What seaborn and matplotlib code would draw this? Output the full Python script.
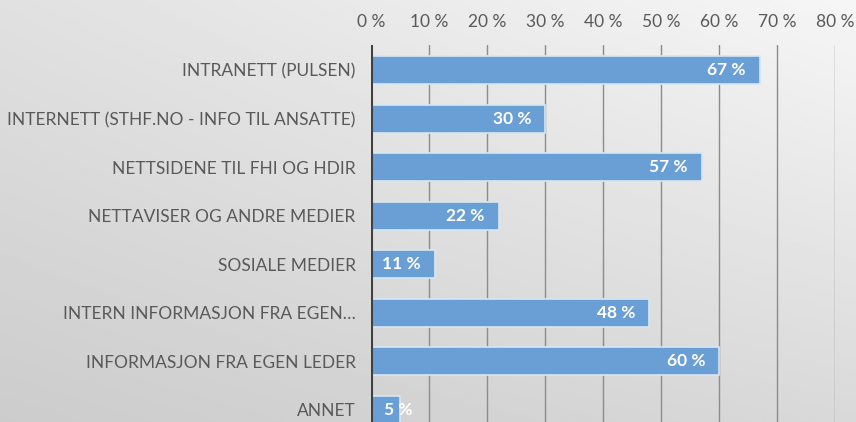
import matplotlib
matplotlib.use("Agg")
import matplotlib.pyplot as plt
import numpy as np
import pandas as pd
import seaborn as sns

categories = [
    "INTRANETT (PULSEN)",
    "INTERNETT (STHF.NO - INFO TIL ANSATTE)",
    "NETTSIDENE TIL FHI OG HDIR",
    "NETTAVISER OG ANDRE MEDIER",
    "SOSIALE MEDIER",
    "INTERN INFORMASJON FRA EGEN…",
    "INFORMASJON FRA EGEN LEDER",
    "ANNET",
]
values = [67, 30, 57, 22, 11, 48, 60, 5]
ticks = [0, 10, 20, 30, 40, 50, 60, 70, 80]

df = pd.DataFrame({"kategori": categories, "andel": values})

sns.set_theme(style="white")
plt.rcParams["font.family"] = ["Lato", "DejaVu Sans"]

fig = plt.figure(figsize=(8.56, 4.22), dpi=100)

# bakgrunn: bilineær gradient mellom hjørnefargene
bg = fig.add_axes([0, 0, 1, 1], zorder=-10)
gx, gy = np.meshgrid(np.linspace(0, 1, 300), np.linspace(0, 1, 150))
tl, tr, bl, br = 0.88, 0.965, 0.80, 0.85
shade = (tl * (1 - gx) * (1 - gy) + tr * gx * (1 - gy)
         + bl * (1 - gx) * gy + br * gx * gy)
bg.imshow(shade, cmap="gray", vmin=0, vmax=1, aspect="auto",
          extent=[0, 1, 0, 1], origin="upper")
bg.axis("off")

ax = fig.add_axes([371 / 856, -12 / 422, 464 / 856, 389 / 422])
ax.set_facecolor("none")

sns.barplot(data=df, x="andel", y="kategori", orient="h", color="#6a9fd6",
            saturation=1, width=0.58, edgecolor="#d6e6f5", linewidth=1.2,
            ax=ax, zorder=3)

ax.set_xlim(0, 80)
ax.set_ylim(len(categories) - 0.5, -0.52)
ax.set_xticks(ticks)
ax.set_xticklabels([f"{t} %" for t in ticks])
ax.xaxis.tick_top()
ax.tick_params(axis="x", length=0, pad=11, labelsize=12.5, labelcolor="#595959")
ax.tick_params(axis="y", length=0, pad=11, labelsize=12.5, labelcolor="#595959")
ax.set_xlabel("")
ax.set_ylabel("")

for t in ticks[1:]:
    ax.axvline(t, color="#8c8c8c", linewidth=1.0, zorder=1)
ax.axvline(0, color="#404040", linewidth=2.2, zorder=4)

for s in ax.spines.values():
    s.set_visible(False)

for i, v in enumerate(values):
    if v < 8:
        ax.text(2.3, i, f"{v} %", ha="left", va="center", color="white",
                fontsize=12.5, fontweight="bold", zorder=5)
    else:
        ax.text(v - 2.4, i, f"{v} %", ha="right", va="center", color="white",
                fontsize=12.5, fontweight="bold", zorder=5)

fig.savefig("out.png", dpi=100)
